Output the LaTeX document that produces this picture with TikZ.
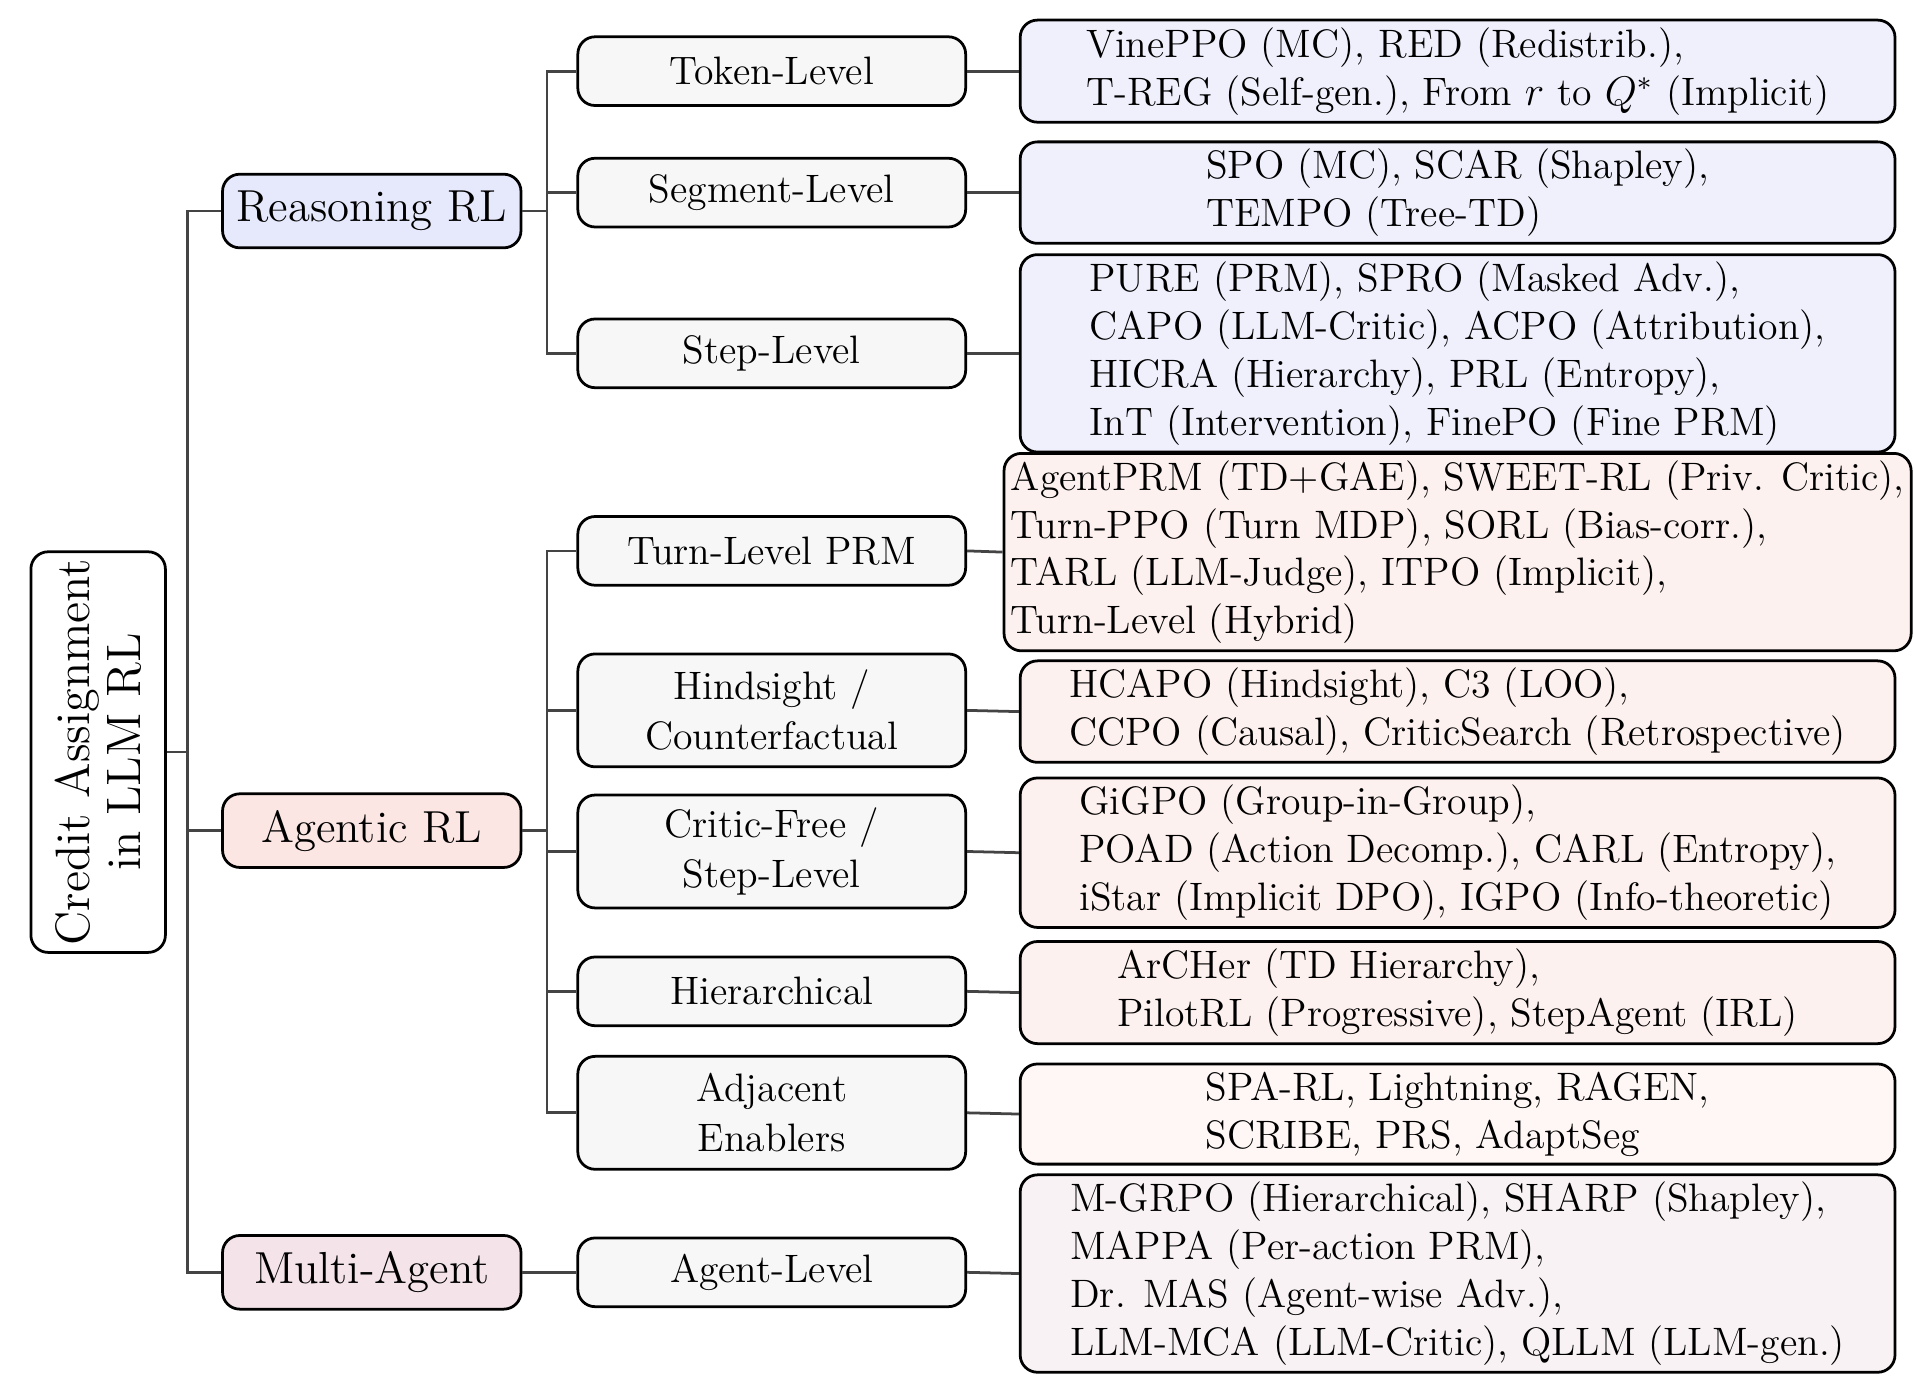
\documentclass[tikz,border=0pt]{standalone}
\usepackage{amsmath}

\definecolor{rsnfill}{HTML}{E6E8FB}
\definecolor{agtfill}{HTML}{FBE6E3}
\definecolor{mafill}{HTML}{F4E4EA}
\definecolor{subfill}{HTML}{F7F7F7}
\definecolor{rsnleaf}{HTML}{F0F0FD}
\definecolor{agtleaf}{HTML}{FDF1EF}
\definecolor{adjleaf}{HTML}{FEF7F6}
\definecolor{maleaf}{HTML}{F8F2F5}
\definecolor{edgegray}{HTML}{444444}

\tikzset{
  box/.style={draw, thick, rounded corners=5pt, inner sep=2pt},
  root/.style={box, fill=white, minimum width=3.3cm, minimum height=1.37cm, rotate=90, align=center, font=\fontsize{14}{15}\selectfont},
  cat/.style={box, minimum width=3.04cm, minimum height=0.75cm, font=\fontsize{13}{15}\selectfont},
  sub/.style={box, fill=subfill, minimum width=3.95cm, align=center, font=\fontsize{11.5}{14.5}\selectfont},
  leaf/.style={box, minimum width=8.91cm, align=left, font=\fontsize{11.5}{13.9}\selectfont},
  link/.style={edgegray, thick},
}

\begin{document}
\begin{tikzpicture}[x=0.0125cm, y=-0.0125cm]
\useasboundingbox (0,0) rectangle (1560,1128);
% root
\node[root] (root) at (80,613) {Credit Assignment\\in LLM RL};
% categories
\node[cat, fill=rsnfill] (rsn) at (303,172) {Reasoning RL};
\node[cat, fill=agtfill] (agt) at (303,677) {Agentic RL};
\node[cat, fill=mafill] (ma) at (303,1037) {Multi-Agent};
% sub levels
\node[sub, minimum height=0.7cm] (tok) at (629,58) {Token-Level};
\node[sub, minimum height=0.7cm] (seg) at (629,157) {Segment-Level};
\node[sub, minimum height=0.7cm] (step) at (629,288) {Step-Level};
\node[sub, minimum height=0.7cm] (turn) at (629,449) {Turn-Level PRM};
\node[sub, minimum height=1.15cm] (hind) at (629,579) {Hindsight /\\Counterfactual};
\node[sub, minimum height=1.15cm] (cfree) at (629,694) {Critic-Free /\\Step-Level};
\node[sub, minimum height=0.7cm] (hier) at (629,808) {Hierarchical};
\node[sub, minimum height=1.15cm] (adj) at (629,907) {Adjacent\\Enablers};
\node[sub, minimum height=0.7cm] (agl) at (629,1037) {Agent-Level};
% leaves
\node[leaf, fill=rsnleaf, minimum height=1.04cm] (ltok) at (1188,58) {VinePPO (MC), RED (Redistrib.),\\T-REG (Self-gen.), From $r$ to $Q^{*}$ (Implicit)};
\node[leaf, fill=rsnleaf, minimum height=1cm] (lseg) at (1188,157) {SPO (MC), SCAR (Shapley),\\TEMPO (Tree-TD)};
\node[leaf, fill=rsnleaf, minimum height=1.81cm] (lstep) at (1188,288) {PURE (PRM), SPRO (Masked Adv.),\\CAPO (LLM-Critic), ACPO (Attribution),\\HICRA (Hierarchy), PRL (Entropy),\\InT (Intervention), FinePO (Fine PRM)};
\node[leaf, fill=agtleaf, minimum height=1.81cm] (lturn) at (1188,450) {AgentPRM (TD+GAE), SWEET-RL (Priv. Critic),\\Turn-PPO (Turn MDP), SORL (Bias-corr.),\\TARL (LLM-Judge), ITPO (Implicit),\\Turn-Level (Hybrid)};
\node[leaf, fill=agtleaf, minimum height=1.01cm] (lhind) at (1188,580) {HCAPO (Hindsight), C3 (LOO),\\CCPO (Causal), CriticSearch (Retrospective)};
\node[leaf, fill=agtleaf, minimum height=1.42cm] (lcfree) at (1188,695) {GiGPO (Group-in-Group),\\POAD (Action Decomp.), CARL (Entropy),\\iStar (Implicit DPO), IGPO (Info-theoretic)};
\node[leaf, fill=agtleaf, minimum height=1.04cm] (lhier) at (1188,809) {ArCHer (TD Hierarchy),\\PilotRL (Progressive), StepAgent (IRL)};
\node[leaf, fill=adjleaf, minimum height=1.02cm] (ladj) at (1188,908) {SPA-RL, Lightning, RAGEN,\\SCRIBE, PRS, AdaptSeg};
\node[leaf, fill=maleaf, minimum height=1.81cm] (lagl) at (1188,1038) {M-GRPO (Hierarchical), SHARP (Shapley),\\MAPPA (Per-action PRM),\\Dr. MAS (Agent-wise Adv.),\\LLM-MCA (LLM-Critic), QLLM (LLM-gen.)};
% root to categories
\coordinate (rbus) at (153,613);
\draw[link] (root.south) -- (rbus);
\foreach \c in {rsn,agt,ma}
  \draw[link] (rbus) |- (\c.west);
% categories to sub levels
\foreach \c/\s in {rsn/tok,rsn/seg,rsn/step,agt/turn,agt/hind,agt/cfree,agt/hier,agt/adj}
  \draw[link] (\c.east) -- ++(20,0) |- (\s.west);
\draw[link] (ma.east) -- (agl.west);
% sub levels to leaves
\foreach \s in {tok,seg,step,turn,hind,cfree,hier,adj,agl}
  \draw[link] (\s.east) -- (l\s.west);
\end{tikzpicture}
\end{document}
